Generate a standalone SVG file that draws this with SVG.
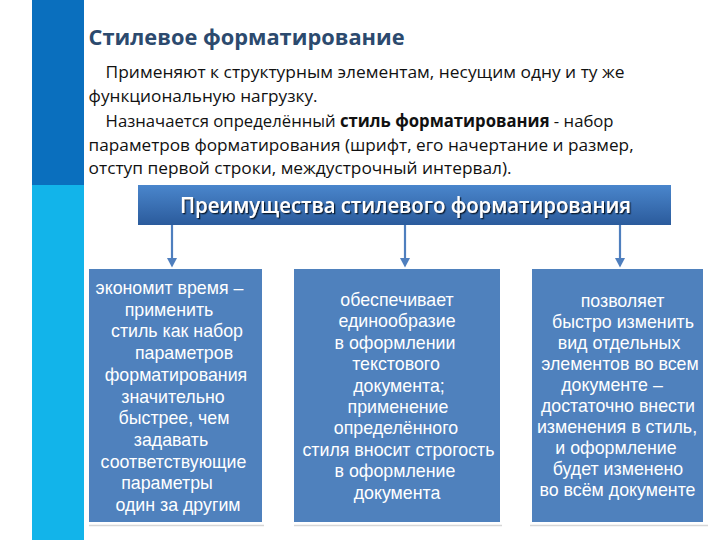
<svg xmlns="http://www.w3.org/2000/svg" width="720" height="540" viewBox="0 0 720 540">
<defs>
<linearGradient id="hdr" x1="0" y1="0" x2="0" y2="1">
<stop offset="0" stop-color="#4A86CC"/>
<stop offset="1" stop-color="#2B5B9C"/>
</linearGradient>
<marker id="ah" markerWidth="10" markerHeight="10" refX="0" refY="5" orient="auto" markerUnits="userSpaceOnUse" viewBox="0 0 10 10">
<path d="M0,0 L9.5,5 L0,10 Z" fill="#4F7FBE"/>
</marker>
<filter id="ts" x="-5%" y="-30%" width="110%" height="160%">
<feDropShadow dx="1.3" dy="1.3" stdDeviation="0.2" flood-color="#0A1A30" flood-opacity="1"/>
</filter>
</defs>
<style>
.body{font-family:"Open Sans","Noto Sans","DejaVu Sans",sans-serif;font-size:17px;fill:#111}
.title{font-family:"Open Sans","Noto Sans","DejaVu Sans",sans-serif;font-size:22px;font-weight:bold;fill:#2C4A6E}
.hdr{font-family:"Open Sans","Noto Sans","DejaVu Sans",sans-serif;font-size:21px;font-weight:600;fill:#fff}
.box{fill:#4F81BD}
.bt{font-family:"Liberation Sans",Arial,sans-serif;font-size:17.8px;fill:#fff;text-anchor:middle}
.conn{stroke:#4F7FBE;stroke-width:2.2;fill:none}
.refl{stroke:#D6D6D6;stroke-width:1.5}
</style>
<rect width="720" height="540" fill="#fff"/>
<rect x="32" y="0" width="52" height="185" fill="#0A6FBE"/>
<rect x="32" y="185" width="52" height="355" fill="#12B4EA"/>

<g id="title">
<text class="title" x="88.6" y="45" textLength="316" lengthAdjust="spacingAndGlyphs">Стилевое форматирование</text>
</g>
<g id="intro">
<text class="body" x="105.6" y="77.5" textLength="519" lengthAdjust="spacingAndGlyphs">Применяют к структурным элементам, несущим одну и ту же</text>
<text class="body" x="88.6" y="101.5" textLength="229" lengthAdjust="spacingAndGlyphs">функциональную нагрузку.</text>
<text class="body" x="105.6" y="127" textLength="508" lengthAdjust="spacingAndGlyphs">Назначается определённый <tspan font-weight="bold">стиль форматирования</tspan> - набор</text>
<text class="body" x="88.6" y="150.5" textLength="545" lengthAdjust="spacingAndGlyphs">параметров форматирования (шрифт, его начертание и размер,</text>
<text class="body" x="88.6" y="174" textLength="423" lengthAdjust="spacingAndGlyphs">отступ первой строки, междустрочный интервал).</text>
</g>

<g id="header">
<rect x="138" y="185" width="533" height="40" fill="url(#hdr)"/>
<text class="hdr" x="180" y="213" textLength="451" lengthAdjust="spacingAndGlyphs" filter="url(#ts)">Преимущества стилевого форматирования</text>
</g>

<g id="connectors">
<line class="conn" x1="172" y1="225" x2="172" y2="258" marker-end="url(#ah)"/>
<line class="conn" x1="405" y1="225" x2="405" y2="258" marker-end="url(#ah)"/>
<line class="conn" x1="620" y1="225" x2="620" y2="258" marker-end="url(#ah)"/>
</g>

<g id="box1">
<rect class="box" x="89" y="269" width="173" height="253"/>
<line class="refl" x1="89" y1="525.5" x2="264" y2="525.5"/>
<text class="bt" x="169.5" y="294">экономит время –</text>
<text class="bt" x="169" y="315.7">применить</text>
<text class="bt" x="177" y="337.4">стиль как набор</text>
<text class="bt" x="184" y="359.1">параметров</text>
<text class="bt" x="176" y="380.8">форматирования</text>
<text class="bt" x="173" y="402.5">значительно</text>
<text class="bt" x="174" y="424.2">быстрее, чем</text>
<text class="bt" x="171" y="445.9">задавать</text>
<text class="bt" x="173.5" y="467.6">соответствующие</text>
<text class="bt" x="167" y="489.3">параметры</text>
<text class="bt" x="178" y="511">один за другим</text>
</g>

<g id="box2">
<rect class="box" x="294" y="269" width="206" height="253"/>
<line class="refl" x1="294" y1="525.5" x2="502" y2="525.5"/>
<text class="bt" x="397" y="306">обеспечивает</text>
<text class="bt" x="397" y="327.4">единообразие</text>
<text class="bt" x="395" y="348.8">в оформлении</text>
<text class="bt" x="396" y="370.2">текстового</text>
<text class="bt" x="399" y="391.6">документа;</text>
<text class="bt" x="398" y="413">применение</text>
<text class="bt" x="396" y="434.4">определённого</text>
<text class="bt" x="398.5" y="455.8">стиля вносит строгость</text>
<text class="bt" x="395" y="477.2">в оформление</text>
<text class="bt" x="397" y="498.6">документа</text>
</g>

<g id="box3">
<rect class="box" x="532" y="269" width="171" height="253"/>
<line class="refl" x1="530" y1="525.5" x2="708" y2="525.5"/>
<text class="bt" x="622.5" y="306.5">позволяет</text>
<text class="bt" x="623" y="327.6">быстро изменить</text>
<text class="bt" x="619" y="348.7">вид отдельных</text>
<text class="bt" x="620" y="369.8">элементов во всем</text>
<text class="bt" x="612" y="390.9">документе –</text>
<text class="bt" x="618" y="412">достаточно внести</text>
<text class="bt" x="617" y="433.1">изменения в стиль,</text>
<text class="bt" x="616" y="454.2">и оформление</text>
<text class="bt" x="618" y="475.3">будет изменено</text>
<text class="bt" x="617.5" y="496.4">во всём документе</text>
</g>
</svg>
